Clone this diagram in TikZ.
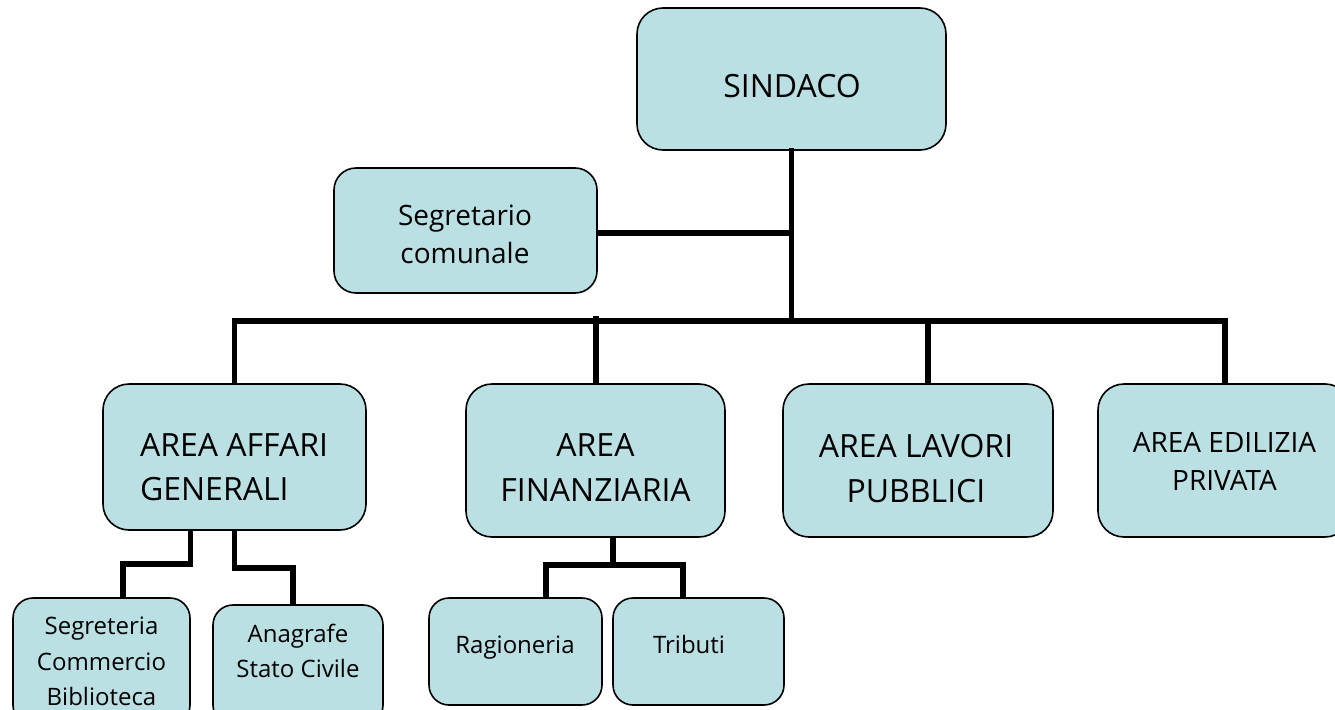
\documentclass[tikz,border=0pt]{standalone}
\usepackage{fontspec}
\setmainfont{Open Sans}
\usetikzlibrary{calc}
\definecolor{boxfill}{RGB}{186,224,227}
\tikzset{
  box/.style={draw=black, line width=1.6pt, fill=boxfill, rectangle, inner sep=0pt},
  conn/.style={draw=black, line width=5.5pt, line join=miter, line cap=rect},
  bigtxt/.style={font=\fontsize{32}{44}\selectfont, align=left, inner sep=0pt},
  bigctxt/.style={font=\fontsize{32}{45}\selectfont, align=center, inner sep=0pt},
  medtxt/.style={font=\fontsize{28}{38}\selectfont, align=center, inner sep=0pt},
  smalltxt/.style={font=\fontsize{24}{35.5}\selectfont, align=center, inner sep=0pt},
}
\begin{document}
\begin{tikzpicture}[x=1pt,y=-1pt]
\useasboundingbox (0,0) rectangle (1335,709);
\clip (0,0) rectangle (1335,709);
% connectors first (under boxes)
\coordinate (busL) at (235,321);
\coordinate (edtop) at (1225,384);
\coordinate (fintick) at (596,316);
% boxes
\node[box, rounded corners=26pt, minimum width=309pt, minimum height=142pt] (sindaco) at (791.5,79) {};
\node[box, rounded corners=22pt, minimum width=263pt, minimum height=125pt] (segr) at (465.5,230.5) {};
\node[box, rounded corners=26pt, minimum width=263pt, minimum height=146pt] (affari) at (234.5,457) {};
\node[box, rounded corners=26pt, minimum width=259pt, minimum height=153pt] (finanz) at (595.5,460.5) {};
\node[box, rounded corners=26pt, minimum width=270pt, minimum height=153pt] (lavori) at (918,460.5) {};
\node[box, rounded corners=26pt, minimum width=253pt, minimum height=153pt] (edil) at (1224.5,460.5) {};
\node[box, rounded corners=20pt, minimum width=177pt, minimum height=127pt] (segreteria) at (101.5,661.5) {};
\node[box, rounded corners=20pt, minimum width=170pt, minimum height=120pt] (anagrafe) at (298,665) {};
\node[box, rounded corners=20pt, minimum width=173pt, minimum height=107pt] (ragion) at (515.5,651.5) {};
\node[box, rounded corners=20pt, minimum width=171pt, minimum height=107pt] (tributi) at (698.5,651.5) {};
% texts
\node[bigctxt, anchor=base] (tsindaco) at (792,97) {SINDACO};
\node[medtxt] (tsegr) at (465,234) {Segretario\\comunale};
\node[bigtxt] (taffari) at (234,467.5) {AREA AFFARI\\GENERALI};
\node[bigctxt] (tfinanz) at (595.5,468) {AREA\\FINANZIARIA};
\node[bigctxt] (tlavori) at (916,468.5) {AREA LAVORI\\PUBBLICI};
\node[medtxt] (tedil) at (1224.5,461.5) {AREA EDILIZIA\\PRIVATA};
\node[smalltxt] (tsegreteria) at (101.5,661.5) {Segreteria\\Commercio\\Biblioteca};
\node[smalltxt] (tanagrafe) at (298,651) {Anagrafe\\Stato Civile};
\node[smalltxt, anchor=base] (tragion) at (515,653) {Ragioneria};
\node[smalltxt, anchor=base] (ttributi) at (689,653) {Tributi};
% main connectors
\draw[conn] (sindaco.south) -- (sindaco.south |- busL);
\draw[conn, line cap=butt] (segr.east |- 0,233) -- (sindaco.south |- 0,233);
\draw[conn, line cap=butt] (affari.north) |- (edtop |- busL) -- (edtop);
\draw[conn, line cap=butt] (fintick) -- (fintick |- finanz.north);
\draw[conn, line cap=butt] ([xshift=10pt]lavori.north |- busL) -- ([xshift=10pt]lavori.north);
% sub connectors
\draw[conn, line cap=butt] ([xshift=-44pt]affari.south) -- ++(0,33) -| ([xshift=21.5pt]segreteria.north);
\draw[conn, line cap=butt] (affari.south) -- ++(0,37) -| ([xshift=-5pt]anagrafe.north);
\draw[conn, line cap=butt] ([xshift=17.5pt]finanz.south) -- ++(0,28);
\draw[conn, line cap=butt] ([xshift=30.5pt]ragion.north) |- ([xshift=17.5pt]finanz.south |- 0,565) -| ([xshift=-15.5pt]tributi.north);
\end{tikzpicture}
\end{document}
